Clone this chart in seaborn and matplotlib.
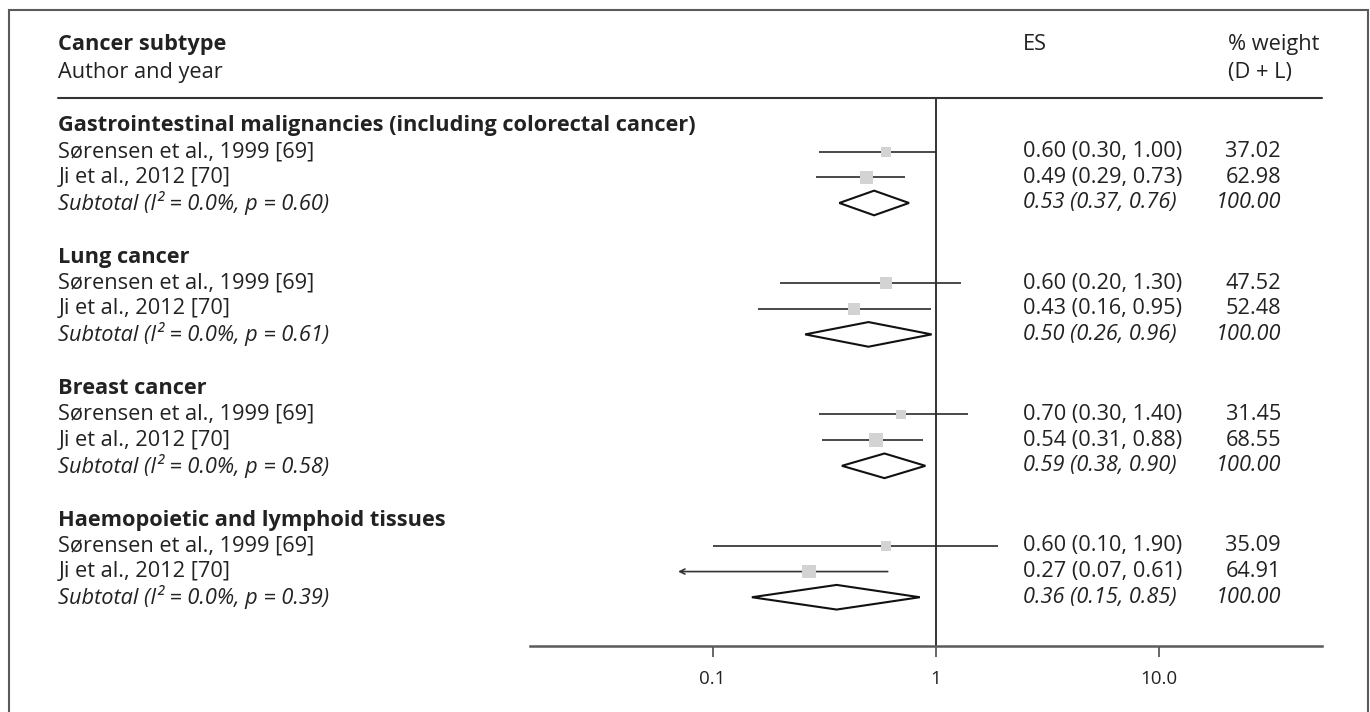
import numpy as np
import pandas as pd
import matplotlib
matplotlib.use("Agg")
import matplotlib.pyplot as plt
import matplotlib.transforms as mtransforms
from matplotlib.lines import Line2D
from matplotlib.patches import Rectangle
from matplotlib.ticker import FixedLocator, FixedFormatter, NullLocator
import seaborn as sns

# ---- data -------------------------------------------------------------
groups = [
    "Gastrointestinal malignancies (including colorectal cancer)",
    "Lung cancer",
    "Breast cancer",
    "Haemopoietic and lymphoid tissues",
]
studies = ["Sørensen et al., 1999 [69]", "Ji et al., 2012 [70]"]

study_es = [[0.60, 0.49], [0.60, 0.43], [0.70, 0.54], [0.60, 0.27]]
study_lo = [[0.30, 0.29], [0.20, 0.16], [0.30, 0.31], [0.10, 0.07]]
study_hi = [[1.00, 0.73], [1.30, 0.95], [1.40, 0.88], [1.90, 0.61]]
study_weight = [[37.02, 62.98], [47.52, 52.48], [31.45, 68.55], [35.09, 64.91]]

sub_es = [0.53, 0.50, 0.59, 0.36]
sub_lo = [0.37, 0.26, 0.38, 0.15]
sub_hi = [0.76, 0.96, 0.90, 0.85]
sub_i2 = ["0.0%", "0.0%", "0.0%", "0.0%"]
sub_p = ["0.60", "0.61", "0.58", "0.39"]
sub_weight = [100.00, 100.00, 100.00, 100.00]

tick_values = [0.1, 1, 10]
tick_labels = ["0.1", "1", "10.0"]

# ---- style ------------------------------------------------------------
sns.set_theme(style="white")
plt.rcParams["font.family"] = ["Open Sans", "DejaVu Sans"]
TXT = "#222222"
FS = 15.7
W, H = 1370, 712

fig = plt.figure(figsize=(W / 100, H / 100), dpi=100)
ax = fig.add_axes([530 / W, 1 - 646 / H, (1322 - 530) / W, (646 - 98) / H])

# row layout (row units, downward)
ROW_PX = 25.67
group_step = 5.12
group_rows = [g * group_step for g in range(len(groups))]

recs = []
for g in range(len(groups)):
    for s in range(len(studies)):
        recs.append(dict(row=group_rows[g] + 1 + s, es=study_es[g][s],
                         lo=study_lo[g][s], hi=study_hi[g][s],
                         weight=study_weight[g][s]))
df = pd.DataFrame(recs)

# confidence intervals
for _, r in df.iterrows():
    if r.lo < min(tick_values):
        ax.annotate("", xy=(r.lo, r.row), xytext=(r.hi, r.row),
                    arrowprops=dict(arrowstyle="->", lw=1.2, color="#333333",
                                    shrinkA=0, shrinkB=0, mutation_scale=9))
    else:
        ax.plot([r.lo, r.hi], [r.row, r.row], color="#2a2a2a", lw=1.2,
                solid_capstyle="butt", zorder=2)

# weight boxes (area proportional to weight)
sns.scatterplot(data=df, x="es", y="row", size="weight", size_norm=(0, 100),
                sizes=(0, 145), marker="s", color="#d3d3d3", linewidth=0,
                legend=False, ax=ax, zorder=3)

# pooled diamonds
for g in range(len(groups)):
    yr = group_rows[g] + 3
    ax.fill([sub_lo[g], sub_es[g], sub_hi[g], sub_es[g]],
            [yr, yr - 0.48, yr, yr + 0.48],
            facecolor="white", edgecolor="#111111", lw=1.5, zorder=3)

# null line
ax.axvline(1, color="#111111", lw=1.2, zorder=1)

# axes
ax.set_xscale("log")
ax.set_xlim(10 ** -1.819, 10 ** 1.733)
ax.set_ylim(20.26, -1.09)
ax.xaxis.set_major_locator(FixedLocator(tick_values))
ax.xaxis.set_major_formatter(FixedFormatter(tick_labels))
ax.xaxis.set_minor_locator(NullLocator())
ax.set_yticks([])
ax.set_xlabel("")
ax.set_ylabel("")
for side in ["top", "left", "right"]:
    ax.spines[side].set_visible(False)
ax.spines["bottom"].set_color("#5a5a5a")
ax.spines["bottom"].set_linewidth(1.8)
ax.tick_params(axis="x", direction="out", length=8, width=1.3,
               color="#5a5a5a", pad=9, labelsize=13.5, labelcolor=TXT,
               bottom=True)
ax.set_facecolor("none")

# text columns
tr = mtransforms.blended_transform_factory(fig.transFigure, ax.transData)
X_LEFT = 58.5 / W
X_ES = 1023 / W
X_WT = 1281 / W
X_WT_HEAD = 1228 / W


def row_of(px):
    return (px - 126) / ROW_PX


def put(x, y, s, **kw):
    kw.setdefault("fontsize", FS)
    kw.setdefault("color", TXT)
    ax.text(x, y, s, transform=tr, va="center", clip_on=False, **kw)


put(X_LEFT, row_of(45), "Cancer subtype", fontweight="bold")
put(X_LEFT, row_of(73), "Author and year")
put(X_ES, row_of(45), "ES")
put(X_WT_HEAD, row_of(45), "% weight")
put(X_WT_HEAD, row_of(73), "(D + L)")

for g in range(len(groups)):
    y0 = group_rows[g]
    put(X_LEFT, y0, groups[g], fontweight="bold")
    for s in range(len(studies)):
        put(X_LEFT, y0 + 1 + s, studies[s])
        put(X_ES, y0 + 1 + s, f"{study_es[g][s]:.2f} ({study_lo[g][s]:.2f}, {study_hi[g][s]:.2f})")
        put(X_WT, y0 + 1 + s, f"{study_weight[g][s]:.2f}", ha="right")
    put(X_LEFT, y0 + 3, f"Subtotal (I² = {sub_i2[g]}, p = {sub_p[g]})", style="italic")
    put(X_ES, y0 + 3, f"{sub_es[g]:.2f} ({sub_lo[g]:.2f}, {sub_hi[g]:.2f})", style="italic")
    put(X_WT, y0 + 3, f"{sub_weight[g]:.2f}", ha="right", style="italic")

# header rule
fig.add_artist(Line2D([58 / W, 1322 / W], [1 - 98 / H, 1 - 98 / H],
                      transform=fig.transFigure, color="#333333", lw=1.5))

# outer frame
fig.add_artist(Rectangle((9 / W, -0.05), (1368 - 9) / W, 1 - 10 / H + 0.05,
                         transform=fig.transFigure, fill=False,
                         edgecolor="#5a5a5a", lw=1.5))

fig.savefig("out.png", dpi=100)
